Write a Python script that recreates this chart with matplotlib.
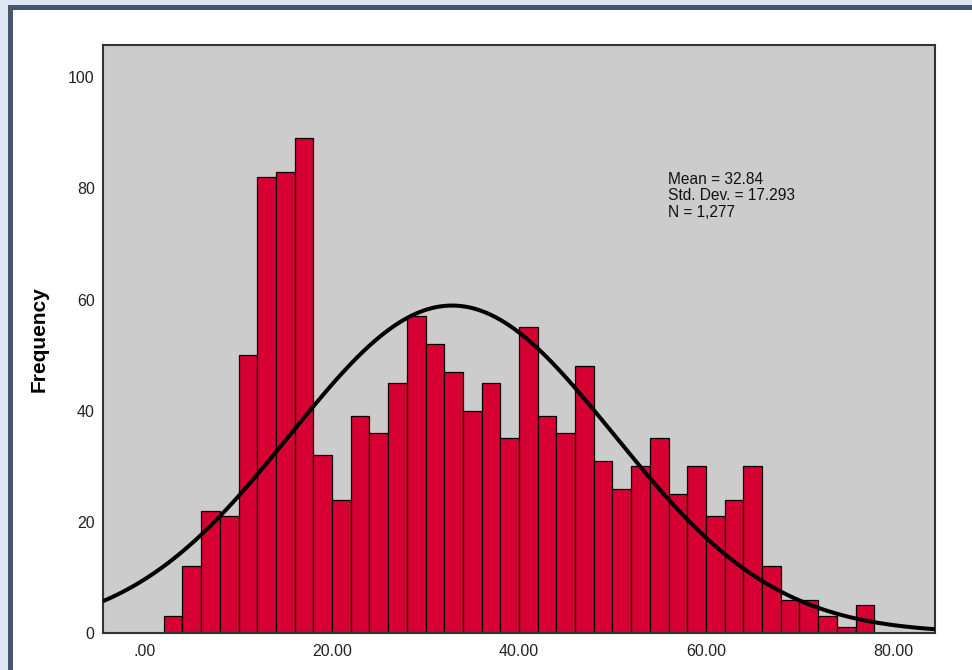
import numpy as np
import matplotlib
matplotlib.use('Agg')
import matplotlib.pyplot as plt
from matplotlib.patches import Rectangle

plt.rcParams['font.family'] = ['Liberation Sans', 'DejaVu Sans']

# histogram data (bin width 2, first bin starts at 2)
bin_start = 2.0
bin_width = 2.0
counts = [3, 12, 22, 21, 50, 82, 83, 89, 32, 24,
          39, 36, 45, 57, 52, 47, 40, 45, 35, 55,
          39, 36, 48, 31, 26, 30, 35, 25, 30, 21,
          24, 30, 12, 6, 6, 3, 1, 5]
mean = 32.84
std = 17.293
n = 1277

xticks = [0, 20, 40, 60, 80]
xticklabels = ['.00', '20.00', '40.00', '60.00', '80.00']
yticks = [0, 20, 40, 60, 80, 100]

W, H = 972, 670
fig = plt.figure(figsize=(W / 100, H / 100), dpi=100)
fig.patch.set_facecolor('#dde6f1')

# white panel with dark frame (left and top edges visible)
panel = Rectangle((9.5 / W, -0.1), 1.2, 1.1 - 7.5 / H, transform=fig.transFigure,
                  facecolor='white', edgecolor='#45566e', linewidth=3.6, zorder=-5)
fig.add_artist(panel)

ax = fig.add_axes([103 / W, 1 - 633 / H, (935 - 103) / W, (633 - 45) / H])
ax.set_facecolor('#cccccc')

edges = bin_start + bin_width * np.arange(len(counts))
ax.bar(edges, counts, width=bin_width, align='edge', color='#d60032',
       edgecolor='black', linewidth=0.9, zorder=2)

# normal curve scaled to counts
xs = np.linspace(-4.5, 84.5, 400)
ys = n * bin_width / (std * np.sqrt(2 * np.pi)) * np.exp(-0.5 * ((xs - mean) / std) ** 2)
ax.plot(xs, ys, color='black', linewidth=2.9, zorder=3, solid_capstyle='butt')

ax.set_xlim(-4.5, 84.5)
ax.set_ylim(0, 105.8)
ax.set_xticks(xticks)
ax.set_xticklabels(xticklabels)
ax.set_yticks(yticks)
ax.tick_params(axis='both', length=0, labelsize=11.5, colors='#222222')
ax.tick_params(axis='x', pad=8)
ax.tick_params(axis='y', pad=6)
for s in ax.spines.values():
    s.set_color('#333333')
    s.set_linewidth(1.5)

ax.set_ylabel('Frequency', fontsize=15, fontweight='bold', labelpad=14)

ax.text(55.9, 83.0, 'Mean = 32.84\nStd. Dev. = 17.293\nN = 1,277',
        fontsize=11.2, va='top', ha='left', linespacing=1.12, color='#111111', zorder=4)

fig.savefig('out.png', dpi=100, facecolor=fig.get_facecolor())
